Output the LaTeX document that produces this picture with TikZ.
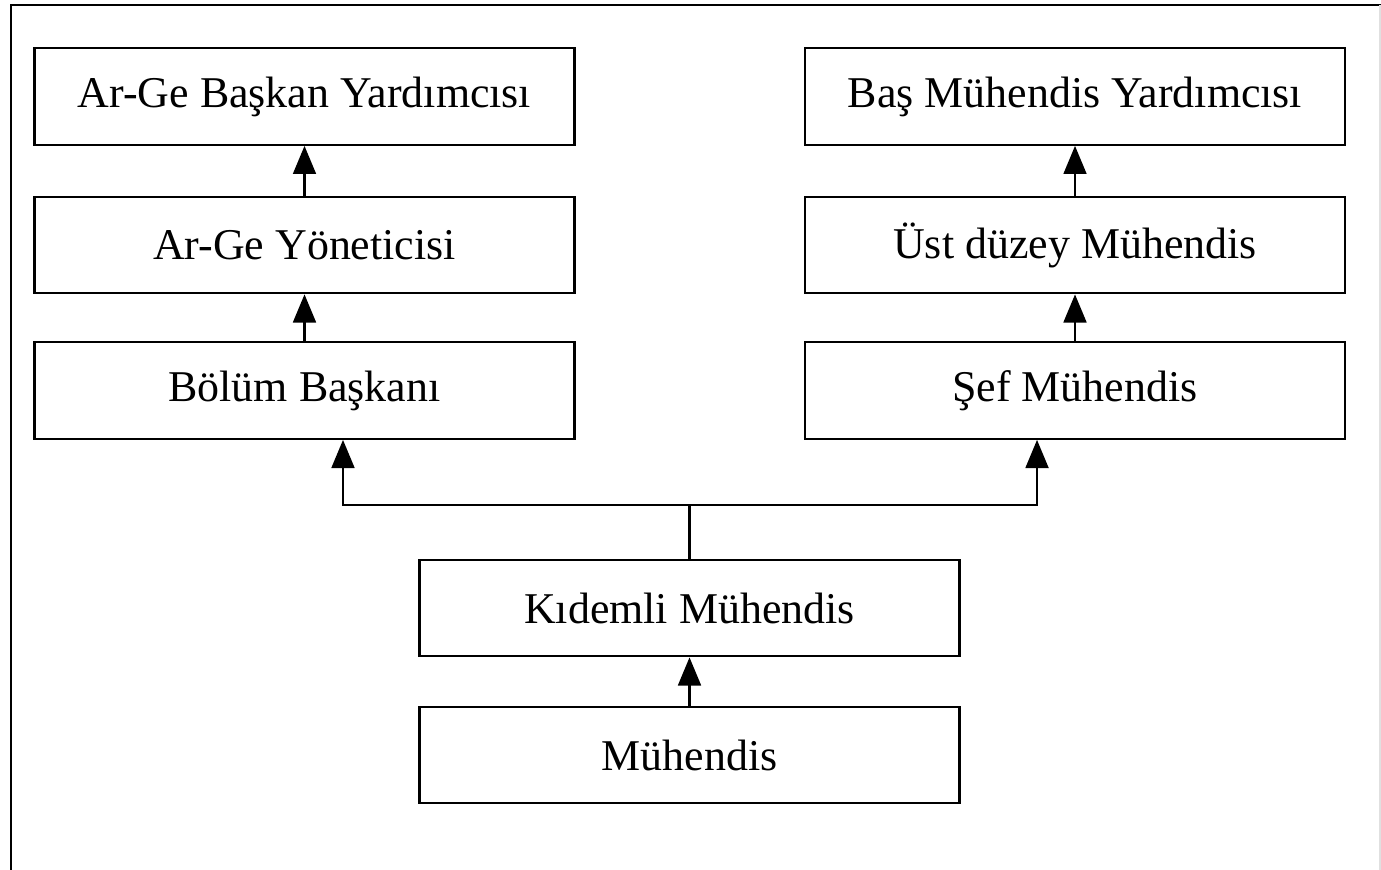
\documentclass[tikz,border=0pt]{standalone}
\usepackage{fontspec}
\setmainfont{Liberation Serif}
\usetikzlibrary{arrows.meta,positioning,calc}
\tikzstyle{chart}=[
  x=0.02cm,y=-0.02cm,line width=1.3pt,>={Triangle[width=13pt,length=16pt]}
]
\tikzstyle{rank}=[
  draw,rectangle,minimum width=10.8cm,minimum height=1.93cm,inner sep=0pt,
  font=\fontsize{25}{30}\selectfont
]
\tikzstyle{frame}=[
  line width=1.6pt
]

\begin{document}
\begin{tikzpicture}[chart]
    \useasboundingbox (0,0) rectangle (1381,869);
    \draw [frame] (11,880) -- (11,5) -- (1381,5);
    \draw [frame,black!12] (1380,5) -- (1380,880);
    % left branch
      \node (argebas) at (304.5,96.5) [rank] {Ar-Ge Başkan Yardımcısı};
      \node (argeyon) at (304.5,245) [rank] {Ar-Ge Yöneticisi};
      \node (bolum) at (304.5,390.5) [rank] {Bölüm Başkanı};
    % right branch
      \node (basmuh) at (1075,96.5) [rank] {Baş Mühendis Yardımcısı};
      \node (ustmuh) at (1075,245) [rank] {Üst düzey Mühendis};
      \node (sefmuh) at (1075,390.5) [rank] {Şef Mühendis};
    % bottom
      \node (kidemli) at (689.5,608) [rank] {Kıdemli Mühendis};
      \node (muh) at (689.5,755) [rank] {Mühendis};
      \coordinate (split) at (689.5,505);
      \draw [->] (argeyon) -- (argebas);
      \draw [->] (bolum) -- (argeyon);
      \draw [->] (ustmuh) -- (basmuh);
      \draw [->] (sefmuh) -- (ustmuh);
      \draw [->] (muh) -- (kidemli);
      \draw (kidemli) -- (split);
      \draw [->] (split) -| ([xshift=0.77cm]bolum.south);
      \draw [->] (split) -| ([xshift=-0.76cm]sefmuh.south);
\end{tikzpicture}
\end{document}
